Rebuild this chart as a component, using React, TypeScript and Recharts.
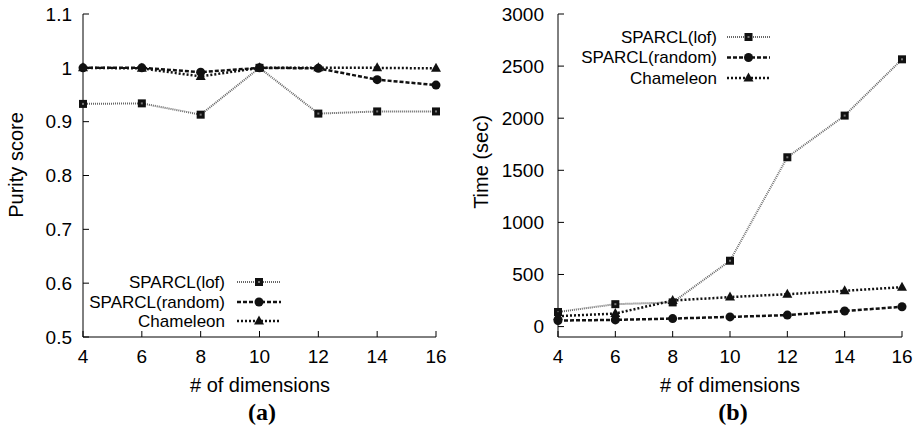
import { LineChart, Line, XAxis, YAxis } from "recharts";

const FONT = "'Liberation Sans', Arial, Helvetica, sans-serif";
const INK = "#000";

const dims = [4, 6, 8, 10, 12, 14, 16];
const purityLof = [0.933, 0.934, 0.913, 1.0, 0.915, 0.919, 0.919];
const purityRandom = [1.0, 1.0, 0.992, 1.0, 0.999, 0.978, 0.968];
const purityChameleon = [1.0, 0.999, 0.984, 1.0, 1.0, 1.0, 0.999];
const timeLof = [140, 215, 232, 632, 1625, 2025, 2565];
const timeRandom = [58, 64, 77, 93, 110, 150, 190];
const timeChameleon = [100, 125, 250, 283, 311, 343, 378];
const purityTicks = [0.5, 0.6, 0.7, 0.8, 0.9, 1, 1.1];
const timeTicks = [0, 500, 1000, 1500, 2000, 2500, 3000];
const seriesNames = ["SPARCL(lof)", "SPARCL(random)", "Chameleon"];

const purityRows = dims.map((d, i) => ({
  dim: d,
  lof: purityLof[i],
  random: purityRandom[i],
  chameleon: purityChameleon[i],
}));
const timeRows = dims.map((d, i) => ({
  dim: d,
  lof: timeLof[i],
  random: timeRandom[i],
  chameleon: timeChameleon[i],
}));

type Shape = "square" | "circle" | "triangle";

function Marker({ cx, cy, shape }: { cx: number; cy: number; shape: Shape }) {
  if (shape === "square") {
    return (
      <g>
        <rect x={cx - 4} y={cy - 4} width={8} height={8} fill="#111" />
        <rect x={cx - 1} y={cy - 1} width={2} height={2} fill="#777" />
      </g>
    );
  }
  if (shape === "circle") {
    return <circle cx={cx} cy={cy} r={4.5} fill="#111" />;
  }
  return (
    <polygon
      points={`${cx},${cy - 5.5} ${cx - 5},${cy + 3.5} ${cx + 5},${cy + 3.5}`}
      fill="#111"
    />
  );
}

const styles = [
  { key: "lof", shape: "square" as Shape, stroke: "#666", width: 2, dash: "1 1" },
  { key: "random", shape: "circle" as Shape, stroke: "#111", width: 2.5, dash: "4 2" },
  { key: "chameleon", shape: "triangle" as Shape, stroke: "#111", width: 2.5, dash: "2 2" },
];

const dotFor = (shape: Shape) => (p: any) =>
  <Marker key={`${shape}-${p.index}`} cx={p.cx} cy={p.cy} shape={shape} />;

const tickStyle = { fontSize: 19, fill: INK, fontFamily: FONT };

function Legend({ right, x1, x2, rows }: { right: number; x1: number; x2: number; rows: number[] }) {
  return (
    <g>
      {styles.map((s, i) => (
        <g key={s.key}>
          <text
            x={right}
            y={rows[i]}
            textAnchor="end"
            dominantBaseline="central"
            fontSize={17}
            fontFamily={FONT}
            fill={INK}
          >
            {seriesNames[i]}
          </text>
          <line x1={x1} x2={x2} y1={rows[i]} y2={rows[i]} stroke={s.stroke} strokeWidth={s.width} strokeDasharray={s.dash} />
          <Marker cx={(x1 + x2) / 2} cy={rows[i]} shape={s.shape} />
        </g>
      ))}
    </g>
  );
}

function Panel({
  rows,
  domain,
  ticks,
  yWidth,
  tickGap,
  right,
}: {
  rows: any[];
  domain: [number, number];
  ticks: number[];
  yWidth: number;
  tickGap: number;
  right: number;
}) {
  return (
    <LineChart width={457} height={431} data={rows} margin={{ top: 14, right, bottom: 64, left: 0 }}>
      <XAxis
        dataKey="dim"
        type="number"
        domain={[4, 16]}
        ticks={dims}
        interval={0}
        height={30}
        tickSize={-6}
        tickMargin={19}
        tick={tickStyle}
        stroke={INK}
      />
      <XAxis
        xAxisId="top"
        orientation="top"
        dataKey="dim"
        type="number"
        domain={[4, 16]}
        ticks={dims}
        interval={0}
        height={0}
        tickSize={-6}
        tickFormatter={() => ""}
        stroke={INK}
      />
      <YAxis
        type="number"
        domain={domain}
        ticks={ticks}
        interval={0}
        width={yWidth}
        tickSize={-6}
        tickMargin={tickGap}
        tick={tickStyle}
        tickFormatter={(v) => String(v)}
        stroke={INK}
        allowDataOverflow
      />
      <YAxis
        yAxisId="right"
        orientation="right"
        type="number"
        domain={domain}
        ticks={ticks}
        interval={0}
        width={0}
        tickSize={-6}
        tickFormatter={() => ""}
        stroke={INK}
        allowDataOverflow
      />
      {styles.map((s) => (
        <Line
          key={s.key}
          dataKey={s.key}
          stroke={s.stroke}
          strokeWidth={s.width}
          strokeDasharray={s.dash}
          dot={dotFor(s.shape)}
          activeDot={false}
          isAnimationActive={false}
        />
      ))}
    </LineChart>
  );
}

export default function App() {
  return (
    <div
      style={{
        position: "absolute",
        left: 0,
        top: 0,
        width: 914,
        height: 431,
        background: "#fff",
        overflow: "hidden",
      }}
    >
      <div style={{ position: "absolute", left: 0, top: 0 }}>
        <Panel rows={purityRows} domain={[0.5, 1.1]} ticks={purityTicks} yWidth={83} tickGap={17} right={21} />
      </div>
      <div style={{ position: "absolute", left: 457, top: 0 }}>
        <Panel rows={timeRows} domain={[-100, 3000]} ticks={timeTicks} yWidth={101} tickGap={20} right={12} />
      </div>
      <svg
        width={914}
        height={431}
        style={{ position: "absolute", left: 0, top: 0, pointerEvents: "none" }}
      >
        <g fontFamily={FONT} fill={INK} fontSize={20}>
          <text x={16} y={165} textAnchor="middle" dominantBaseline="central" transform="rotate(-90 16 165)">
            Purity score
          </text>
          <text x={481} y={162} textAnchor="middle" dominantBaseline="central" transform="rotate(-90 481 162)">
            Time (sec)
          </text>
          <text x={260} y={392} textAnchor="middle">
            # of dimensions
          </text>
          <text x={730} y={392} textAnchor="middle">
            # of dimensions
          </text>
        </g>
        <g fontFamily="'Liberation Serif', 'Times New Roman', serif" fontWeight="bold" fontSize={24} fill={INK}>
          <text x={262} y={420} textAnchor="middle">(a)</text>
          <text x={733} y={420} textAnchor="middle">(b)</text>
        </g>
        <Legend right={225} x1={237} x2={281} rows={[282, 302, 321]} />
        <Legend right={717} x1={727} x2={770} rows={[37, 57.5, 78]} />
      </svg>
    </div>
  );
}
